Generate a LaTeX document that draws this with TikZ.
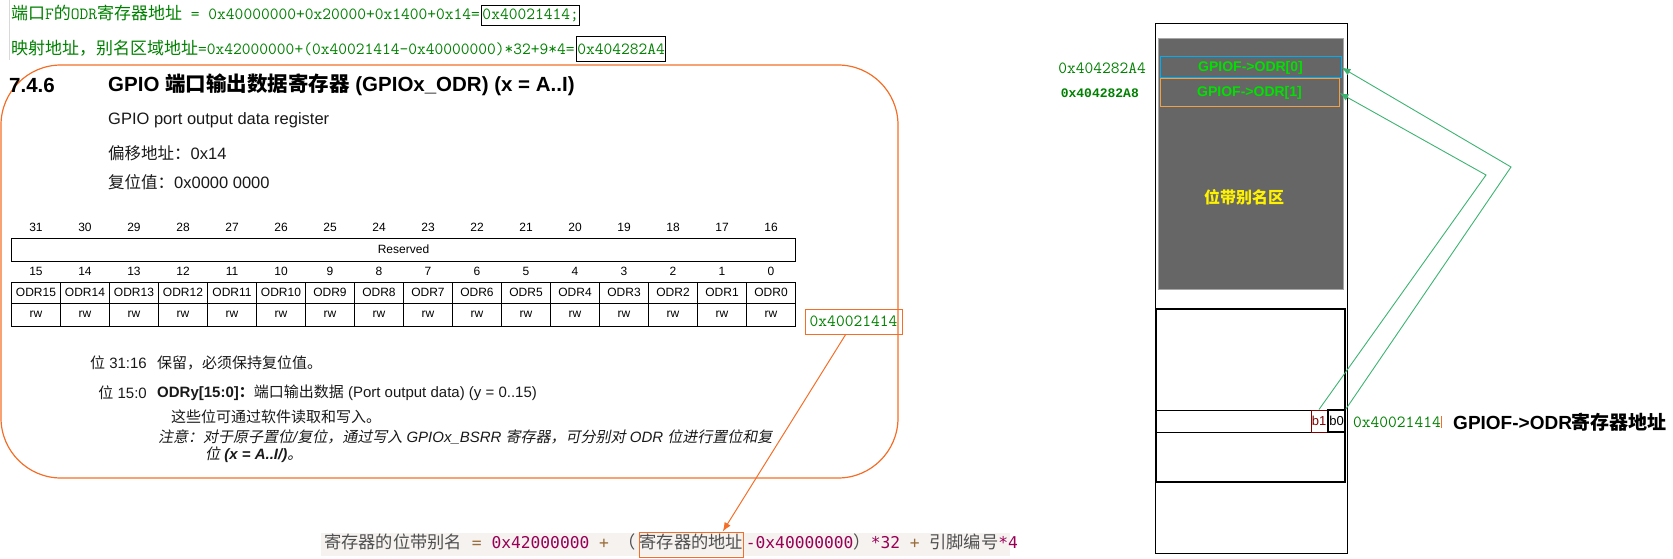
\documentclass[tikz,border=0pt]{standalone}
\usepackage{fontspec}
\setmainfont{Liberation Sans}
\newfontfamily\zhfont{Noto Sans CJK SC}
\newfontfamily\zhslant[FakeSlant=0.2]{Noto Sans CJK SC}
\newfontfamily\codefont{DejaVu Sans Mono}
\newfontfamily\boldmono{Liberation Mono}
\usetikzlibrary{positioning,arrows.meta,calc}
\definecolor{docgreen}{RGB}{0,128,0}
\definecolor{markorange}{RGB}{245,110,40}
\definecolor{aliasgrey}{RGB}{102,102,102}
\definecolor{brightgreen}{RGB}{0,225,0}
\definecolor{slotorange}{RGB}{240,160,70}
\definecolor{linkgreen}{RGB}{60,179,113}
\definecolor{bitred}{RGB}{128,0,0}
\definecolor{codebg}{RGB}{245,242,240}
\definecolor{codenum}{RGB}{153,0,85}
\definecolor{codeop}{RGB}{154,110,58}
\definecolor{codetext}{RGB}{80,80,80}
\newcommand\setfs[1]{\fontsize{#1}{#1}\selectfont}
\newcommand\zh[1]{{\zhfont #1}}
\newcommand\codezh[1]{{\zhfont\setfs{17.25}\color{codetext}#1}}
\begin{document}
\begin{tikzpicture}[x=1pt,y=-1pt,font=\setfs{15},
  greenmono/.style={text=docgreen,font=\ttfamily\setfs{17},inner sep=1pt},
  doctext/.style={text=black!90,font=\setfs{15},inner sep=0pt},
  bitnum/.style={font=\setfs{12},inner sep=0pt},
  regcell/.style={draw,line width=0.9pt,minimum width=49pt,inner sep=0pt,font=\setfs{12}},
  slot/.style={line width=1pt,minimum width=181pt,inner sep=0pt,text=brightgreen,font=\bfseries\setfs{14}},
  memline/.style={draw,line width=1pt,inner sep=0pt},
  bitbox/.style={draw,line width=1pt,minimum width=16pt,minimum height=22pt,inner sep=0pt,font=\setfs{13}},
  formula/.style={font=\codefont\setfs{16.25},minimum height=23pt,text height=12pt,text depth=4pt,inner ysep=0pt,inner xsep=0pt},
  link/.style={draw=linkgreen,line width=0.9pt,-{Latex[length=9pt,width=7pt]}},
  pointer/.style={draw=markorange,line width=1pt,-{Latex[length=9pt,width=7pt]}}]
\useasboundingbox (0,0) rectangle (1673,559);

% address sums
\draw[black!15] (9,0) -- (9,60);
\node[greenmono,anchor=west] (portaddr) at (10,13) {\zh{端口}F\zh{的}ODR\zh{寄存器地址} = 0x40000000+0x20000+0x1400+0x14=};
\node[greenmono,draw=black,line width=0.8pt,anchor=base west,minimum height=20pt] (portval) at (portaddr.base east) {0x40021414;};
\node[greenmono,anchor=west] (aliasaddr) at (10,48) {\zh{映射地址，别名区域地址}=0x42000000+(0x40021414-0x40000000)*32+9*4=};
\node[greenmono,draw=black,line width=0.8pt,anchor=base west,minimum height=25pt] (aliasval) at (aliasaddr.base east) {0x404282A4};

% register page
\draw[markorange,line width=1.2pt,rounded corners=60pt] (1,65) rectangle (898,478);
\node[anchor=west,inner sep=0pt,font=\bfseries\setfs{20.5}] (secnum) at (9,85) {7.4.6};
\node[anchor=west,inner sep=0pt,font=\bfseries\setfs{20.5}] (sectitle) at (108,85) {GPIO \zh{端口输出数据寄存器} (GPIOx\_ODR) (x = A..I)};
\node[doctext,anchor=west,font=\setfs{16.5}] (regname) at (108,120) {GPIO port output data register};
\node[doctext,anchor=west,font=\setfs{16.5}] (offset) at (108,153) {\zh{偏移地址：}0x14};
\node[doctext,anchor=west,font=\setfs{16.5}] (resetval) at (108,182) {\zh{复位值：}0x0000 0000};

\node[regcell,minimum width=784pt,minimum height=23pt] (reserved) at (403.5,249.5) {Reserved};
\foreach \i in {0,...,15}{
  \pgfmathtruncatemacro{\hibit}{31-\i}
  \pgfmathtruncatemacro{\lobit}{15-\i}
  \node[bitnum] (hi\i) at (36+49*\i,227) {\hibit};
  \node[bitnum] (lo\i) at (36+49*\i,271) {\lobit};
  \node[regcell,minimum height=21pt] (field\i) at (36+49*\i,292.5) {ODR\lobit};
  \node[regcell,minimum height=23pt] (access\i) at (36+49*\i,314.5) {rw};
}

\node[doctext,anchor=east] (bitsA) at (147,363) {\zh{位} 31:16};
\node[doctext,anchor=west] (bitsAtext) at (157,363) {\zh{保留，必须保持复位值。}};
\node[doctext,anchor=east] (bitsB) at (147,393) {\zh{位} 15:0};
\node[doctext,anchor=west] (bitsBtext) at (157,393) {{\bfseries ODRy[15:0]\zh{：}}\zh{端口输出数据} (Port output data) (y = 0..15)};
\node[doctext,anchor=west] (rwnote) at (171,417) {\zh{这些位可通过软件读取和写入。}};
\node[doctext,anchor=west] (noteA) at (158,437) {{\zhslant 注意：对于原子置位}{\itshape /}{\zhslant 复位，通过写入} {\itshape GPIOx\_BSRR} {\zhslant 寄存器，可分别对} {\itshape ODR} {\zhslant 位进行置位和复}};
\node[doctext,anchor=west] (noteB) at (205,455) {{\zhslant 位} {\bfseries\itshape (x = A..I/)}{\zhslant 。}};

\node[greenmono,draw=markorange,line width=1pt,minimum width=97pt,minimum height=25pt,inner sep=0pt] (fieldaddr) at (853.5,321.5) {0x40021414};

% alias formula
\fill[codebg] (321,533) rectangle (1010,556);
\node[formula,anchor=west,inner xsep=3pt] (aliasformula) at (321,544.5) {\codezh{寄存器的位带别名} {\color{codeop}=} {\color{codenum}0x42000000} {\color{codeop}+} \codezh{（}};
\node[formula,draw=markorange,line width=1pt,minimum height=25pt,right=0pt of aliasformula] (regaddr) {\codezh{寄存器的地址}};
\node[formula,right=0pt of regaddr,inner xsep=2pt] (formulatail) {{\color{codenum}-0x40000000}\codezh{）}{\color{codenum}*32} {\color{codeop}+} \codezh{引脚编号}{\color{codenum}*4}};
\draw[pointer] ($(fieldaddr.south west)!0.42!(fieldaddr.south east)$) -- ($(regaddr.north west)!0.8!(regaddr.north east)$);

% memory map
\node[memline,minimum width=192pt,minimum height=529pt] (sram) at (1251,288.5) {};
\node[fill=aliasgrey,draw=black!35,line width=1pt,minimum width=185pt,minimum height=250pt,inner sep=0pt] (alias) at (1250.5,164) {};
\node[text=yellow,font=\bfseries\zhfont\setfs{16},inner sep=0pt] (aliasname) at (1244,197) {位带别名区};
\node[slot,draw=cyan,minimum height=21pt] (odrslot0) at (1250.5,67.5) {GPIOF->ODR[0]};
\node[slot,draw=slotorange,minimum width=179pt,minimum height=28pt] (odrslot1) at (1249.5,93) {GPIOF->ODR[1]};
\node[text=docgreen,font=\ttfamily\setfs{17},anchor=east,inner sep=0pt] (slotaddr0) at (1146,68) {0x404282A4};
\node[text=docgreen,font=\boldmono\bfseries\setfs{13},anchor=east,inner sep=0pt] (slotaddr1) at (1139,93) {0x404282A8};

\node[memline,line width=1.5pt,minimum width=189pt,minimum height=173pt] (periph) at (1250.5,395.5) {};
\node[memline,minimum width=189pt,minimum height=22pt] (odrrow) at (1250.5,421) {};
\node[bitbox,draw=bitred,text=bitred] (b1) at (1319,421) {b1};
\node[bitbox,line width=1.5pt,minimum width=17pt] (b0) at (1336.5,421) {b0};
\node[text=docgreen,font=\ttfamily\setfs{17},anchor=west,inner sep=0pt] (odraddr) at (1353,422) {0x40021414};
\draw[markorange,line width=0.8pt] (odraddr.north east) -- (odraddr.south east);
\node[font=\bfseries\setfs{19},anchor=west,inner sep=0pt] (odrname) at (1453,422) {GPIOF->ODR\zh{寄存器地址}};

\coordinate (bendouter) at (1511,167);
\coordinate (bendinner) at (1486,175);
\draw[link] (b0.north east) -- (bendouter) -- (odrslot0.east);
\draw[link] (b1.north) -- (bendinner) -- (odrslot1.east);
\end{tikzpicture}
\end{document}
